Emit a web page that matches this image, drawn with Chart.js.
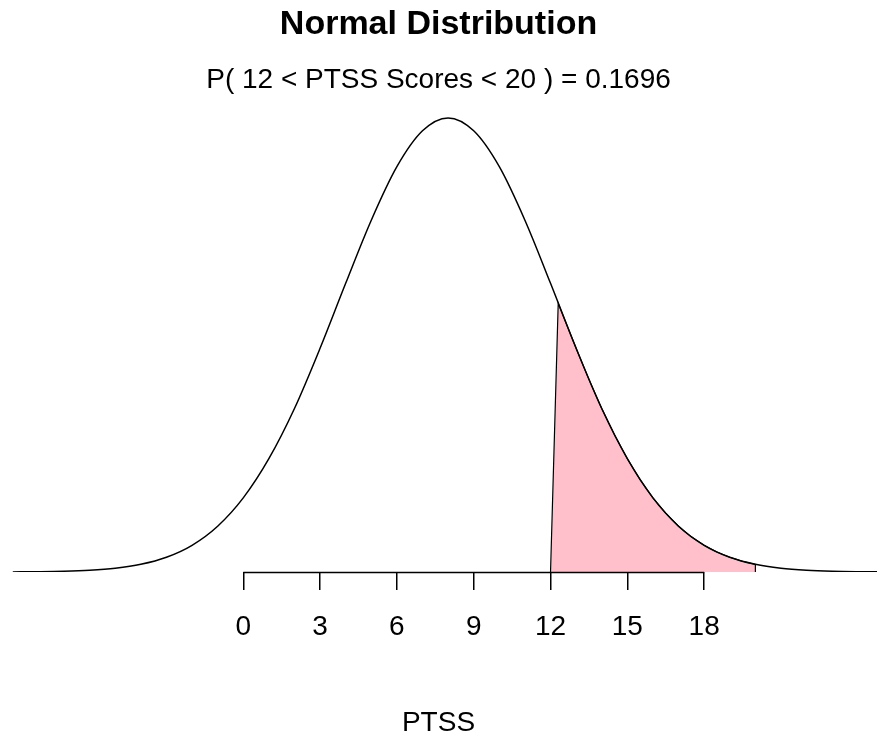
<!DOCTYPE html>
<html>
<head>
<meta charset="utf-8">
<title>Normal Distribution</title>
<script src="https://cdn.jsdelivr.net/npm/chart.js@4.4.0/dist/chart.umd.min.js"></script>
<style>
  html, body { margin: 0; padding: 0; background: #fff; }
</style>
</head>
<body>
<canvas id="chart" width="877" height="742"></canvas>
<script>
// density curve (PTSS score -> height)
const curveX = [-9, -8, -7, -6, -5, -4, -3, -2, -1, 0, 1, 2, 3, 4, 5, 6, 7, 8,
  9, 10, 11, 12, 13, 14, 15, 16, 17, 18, 19, 20, 21, 22, 23, 24, 25];
const curveY = [0.000026, 0.000067, 0.00016, 0.00037, 0.00079, 0.0016, 0.00308,
  0.00558, 0.00957, 0.0155, 0.0237, 0.0342, 0.0468, 0.0604, 0.0736, 0.0848,
  0.0923, 0.0950, 0.0923, 0.0848, 0.0736, 0.0604, 0.0468, 0.0342, 0.0237,
  0.0155, 0.00957, 0.00558, 0.00308, 0.0016, 0.00079, 0.00037, 0.00016,
  0.000067, 0.000026];

// shaded area 12 < x < 20
const shadeX = [12, 12.3, 12.5, 13, 13.5, 14, 14.5, 15, 15.5, 16, 16.5, 17,
  17.5, 18, 18.5, 19, 19.5, 20, 20];
const shadeY = [0, 0.0562, 0.0535, 0.0468, 0.0403, 0.0342, 0.0287, 0.0237,
  0.0193, 0.0155, 0.0123, 0.00957, 0.00735, 0.00558, 0.00417, 0.00308,
  0.00224, 0.0016, 0];

const tickValues = [0, 3, 6, 9, 12, 15, 18];

const FONT = "'Liberation Sans', Arial, sans-serif";

// axis line only spans the labelled ticks, like R's axis()
const axisLine = {
  id: "axisLine",
  afterDraw(chart) {
    const { ctx, chartArea, scales } = chart;
    const x = scales.x;
    const y = Math.round(chartArea.bottom) + 0.5;
    ctx.save();
    ctx.strokeStyle = "#000";
    ctx.lineWidth = 1.5;
    ctx.beginPath();
    ctx.moveTo(x.getPixelForValue(tickValues[0]), y);
    ctx.lineTo(x.getPixelForValue(tickValues[tickValues.length - 1]), y);
    ctx.stroke();
    ctx.restore();
  },
};

const ctx = document.getElementById("chart").getContext("2d");
new Chart(ctx, {
  type: "line",
  data: {
    datasets: [
      {
        data: curveX.map((v, i) => ({ x: v, y: curveY[i] })),
        borderColor: "#000",
        borderWidth: 1.5,
        pointRadius: 0,
        cubicInterpolationMode: "monotone",
        fill: false,
      },
      {
        data: shadeX.map((v, i) => ({ x: v, y: shadeY[i] })),
        borderColor: "#000",
        borderWidth: 1.2,
        backgroundColor: "#FFC0CB",
        pointRadius: 0,
        tension: 0,
        fill: "origin",
      },
    ],
  },
  options: {
    responsive: false,
    animation: false,
    devicePixelRatio: 1,
    layout: { padding: 0 },
    plugins: {
      legend: { display: false },
      tooltip: { enabled: false },
      title: {
        display: true,
        text: "Normal Distribution",
        color: "#000",
        font: { family: FONT, size: 34, weight: "bold" },
        padding: { top: 4, bottom: 0 },
      },
      subtitle: {
        display: true,
        text: "P( 12 < PTSS Scores < 20 ) = 0.1696",
        color: "#000",
        font: { family: FONT, size: 28 },
        padding: { top: 19, bottom: 10 },
      },
    },
    scales: {
      x: {
        type: "linear",
        min: -9.5,
        max: 24.75,
        afterBuildTicks: (scale) => {
          scale.ticks = tickValues.map((v) => ({ value: v }));
        },
        afterFit: (scale) => {
          scale.height = 170;
        },
        grid: {
          display: true,
          drawOnChartArea: false,
          drawTicks: true,
          tickLength: 18,
          color: "#000",
          lineWidth: 1.5,
        },
        border: { display: false },
        ticks: {
          color: "#000",
          padding: 20,
          maxRotation: 0,
          autoSkip: false,
          font: { family: FONT, size: 28 },
        },
        title: {
          display: true,
          text: "PTSS",
          color: "#000",
          font: { family: FONT, size: 28 },
          padding: { top: 0, bottom: 2 },
        },
      },
      y: {
        display: false,
        min: 0,
        max: 0.0972,
      },
    },
  },
  plugins: [axisLine],
});
</script>
</body>
</html>
